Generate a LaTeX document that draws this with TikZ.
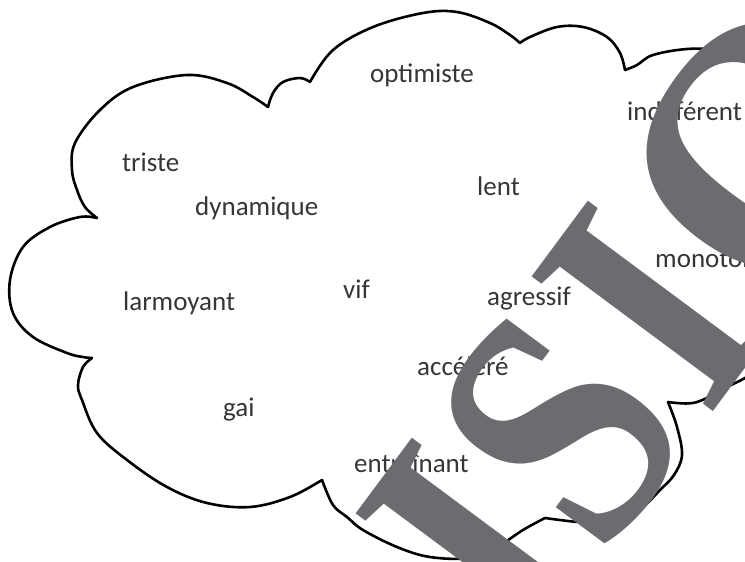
\documentclass[tikz,border=0pt]{standalone}
\usepackage{fontspec}
\newfontfamily\wordfont{Carlito}
\newfontfamily\wmfont{Liberation Serif}
\definecolor{wm}{HTML}{6B6C70}
\definecolor{ink}{HTML}{363636}
\tikzset{
  word/.style={font=\wordfont\fontsize{27}{30}\selectfont, text=ink, anchor=base west, inner sep=0pt},
  cloudline/.style={draw=black, line width=2.6pt, line cap=round, line join=round},
  lobe/.style={cloudline, smooth, tension=0.6},
  wmletter/.style={anchor=base west, inner sep=0pt, text=wm,
      font=\wmfont\bfseries\fontsize{345}{345}\selectfont}
}
\begin{document}
\begin{tikzpicture}[x=1pt,y=-1pt]
\useasboundingbox (0,0) rectangle (745,562);
\clip (0,0) rectangle (745,562);
\fill[white] (0,0) rectangle (745,562);
% cloud outline (pixel coordinates, y downwards)
\draw[lobe] plot coordinates {(97,218) (85,207) (77,190) (72,170) (75,143) (100,110) (133,87) (187,75) (227,83) (253,97) (268,107)};
\draw[lobe] plot coordinates {(268,107) (273,93) (283,82) (300,78) (310,82)};
\draw[lobe] plot coordinates {(310,82) (333,50) (373,27) (423,13) (457,12) (490,23) (510,35) (520,43)};
\draw[lobe] plot coordinates {(520,43) (530,37) (557,27) (583,27) (607,37) (620,53) (625,70)};
\draw[lobe] plot coordinates {(625,70) (637,65) (653,55) (687,49) (720,50) (745,57) (765,72)};
\draw[lobe] plot coordinates {(765,365) (745,378) (727,387) (717,393) (693,403) (668,402)};
\draw[lobe] plot coordinates {(668,402) (677,427) (682,455) (674,475) (660,490) (643,507) (627,517) (607,521) (580,522) (560,520) (545,518)};
\draw[lobe] plot coordinates {(545,518) (523,530) (497,547) (470,558) (430,557) (397,547) (363,530) (347,517) (333,505) (322,480)};
\draw[lobe] plot coordinates {(322,480) (290,497) (250,507) (207,503) (167,487) (127,460) (97,433) (82,400) (78,385) (83,367) (92,358)};
\draw[lobe] plot coordinates {(92,358) (83,357) (67,353) (33,337) (13,313) (10,280) (23,247) (50,227) (80,217) (97,218)};
% words
\node[word] (optimiste) at (370,82) {optimiste};
\node[word] (indifferent) at (627,120) {indifférent};
\node[word] (triste) at (122,171) {triste};
\node[word] (lent) at (477,195) {lent};
\node[word] (dynamique) at (195,215) {dynamique};
\node[word] (monotone) at (655,267) {monotone};
\node[word] (larmoyant) at (123,310) {larmoyant};
\node[word] (vif) at (343,298) {vif};
\node[word] (agressif) at (487,305) {agressif};
\node[word] (accelere) at (417,375) {accéléré};
\node[word] (gai) at (223,416) {gai};
\node[word] (entrainant) at (354,472) {entraînant};
% watermark, letter by letter along a rotated baseline
\begin{scope}[shift={(525.2,664.7)}, rotate=53.4, transform shape]
  \begin{scope}[shift={(67,0)}, xscale=0.85]
    \node[wmletter, anchor=base] (wmI) at (0,0) {I};
  \end{scope}
  \begin{scope}[shift={(129,0)}, xscale=0.85]
    \node[wmletter] (wmS) at (0,0) {S};
  \end{scope}
  \begin{scope}[shift={(362,0)}, xscale=0.85]
    \node[wmletter, anchor=base] (wmII) at (0,0) {I};
  \end{scope}
  \node[wmletter] (wmO) at (428,0) {O};
  \node[wmletter] (wmN) at (680,0) {N};
\end{scope}
\end{tikzpicture}
\end{document}
